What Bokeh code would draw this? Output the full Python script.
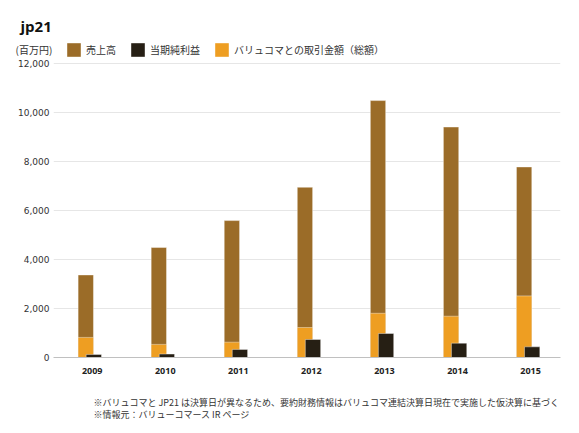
from bokeh.plotting import figure
from bokeh.layouts import column
from bokeh.models import (ColumnDataSource, Range1d, Legend, LegendItem, Label,
                          FixedTicker, NumeralTickFormatter)
from bokeh.transform import dodge
from bokeh.embed import file_html
from bokeh.resources import INLINE

# data (million yen)
years = ["2009", "2010", "2011", "2012", "2013", "2014", "2015"]
sales = [3370, 4490, 5590, 6950, 10490, 9410, 7780]
net_income = [125, 140, 330, 735, 980, 585, 435]
valuecommerce = [820, 535, 625, 1225, 1805, 1685, 2515]
y_ticks = [0, 2000, 4000, 6000, 8000, 10000, 12000]

series_names = ["売上高", "当期純利益", "バリュコマとの取引金額（総額）"]
title_text = "jp21"
unit_text = "(百万円)"
notes = [
    "※バリュコマと JP21 は決算日が異なるため、要約財務情報はバリュコマ連結決算日現在で実施した仮決算に基づく",
    "※情報元：バリューコマース IR ページ",
]

BROWN = "#9b6c28"
DARK = "#261f14"
ORANGE = "#ee9e22"
JP = "Noto Sans CJK JP"
W = 579


def blank(height):
    # plain drawing area in pixel units, y pointing down
    f = figure(width=W, height=height, x_range=Range1d(0, W), y_range=Range1d(height, 0),
               output_backend="svg", toolbar_location=None, x_axis_type=None, y_axis_type=None,
               min_border=0, outline_line_color=None, frame_align=False)
    f.grid.visible = False
    return f


# header: title, unit and legend
head = blank(58)
head.add_layout(Label(x=20, y=25, text=title_text, text_font="Open Sans", text_font_style="bold",
                      text_font_size="15px", text_color="#111111", text_baseline="alphabetic"))
head.add_layout(Label(x=15, y=48.5, text=unit_text, text_font=JP, text_font_size="10px",
                      text_color="#333333", text_baseline="middle"))
# swatch renderers for the legend only, placed outside the visible area
swatches = [head.vbar(x=[-100], top=[-100], width=1, fill_color=c, line_color=None)
            for c in (BROWN, DARK, ORANGE)]
legend = Legend(items=[LegendItem(label=n, renderers=[r]) for n, r in zip(series_names, swatches)],
                location=(65, 0), orientation="horizontal",
                glyph_width=17, glyph_height=17, label_height=17,
                label_standoff=4, spacing=13, padding=0, margin=0,
                border_line_color=None, background_fill_alpha=0,
                label_text_font=JP, label_text_font_size="10px",
                label_text_color="#333333")
head.add_layout(legend)

# main chart
src = ColumnDataSource(data=dict(
    x=list(range(len(years))), sales=sales, net=net_income, vc=valuecommerce))

p = figure(width=W, height=327, x_range=Range1d(-0.53, 6.41), y_range=Range1d(0, 12045),
           output_backend="svg", toolbar_location=None, title=None,
           min_border_left=53, min_border_right=19, min_border_top=4, min_border_bottom=28,
           outline_line_color=None, frame_align=False)

p.xgrid.visible = False
p.ygrid.grid_line_color = "#e6e6e6"

xa = p.xaxis[0]
xa.ticker = FixedTicker(ticks=list(range(len(years))))
xa.major_label_overrides = {i: y for i, y in enumerate(years)}
xa.major_tick_in = 0
xa.major_tick_out = 0
xa.minor_tick_line_color = None
xa.axis_line_color = "#c0c0c0"
xa.major_label_text_font = "Open Sans"
xa.major_label_text_font_style = "bold"
xa.major_label_text_font_size = "9px"
xa.major_label_text_color = "#222222"
xa.major_label_standoff = 10

ya = p.yaxis[0]
ya.ticker = FixedTicker(ticks=y_ticks)
ya.formatter = NumeralTickFormatter(format="0,0")
ya.axis_line_color = None
ya.major_tick_in = 0
ya.major_tick_out = 0
ya.minor_tick_line_color = None
ya.major_label_text_font = "DejaVu Sans"
ya.major_label_text_font_size = "9px"
ya.major_label_text_color = "#333333"
ya.major_label_standoff = 4

# stacked column: total sales with the ValueCommerce portion at its base
p.vbar(x=dodge("x", -0.088), top="sales", width=0.21, source=src,
       fill_color=BROWN, line_color="white", line_alpha=0.4)
p.vbar(x=dodge("x", -0.088), top="vc", width=0.21, source=src,
       fill_color=ORANGE, line_color="white", line_alpha=0.4)
p.vbar(x=dodge("x", 0.022), top="net", width=0.21, source=src,
       fill_color=DARK, line_color="white", line_alpha=0.4)

# footer notes
foot = blank(48)
for i, line in enumerate(notes):
    foot.add_layout(Label(x=93, y=17 + 11.5 * i, text=line, text_font=JP, text_font_size="9px",
                          text_color="#333333", text_baseline="middle"))

layout = column(head, p, foot, spacing=0)
open("out.html", "w").write(file_html(layout, INLINE))
